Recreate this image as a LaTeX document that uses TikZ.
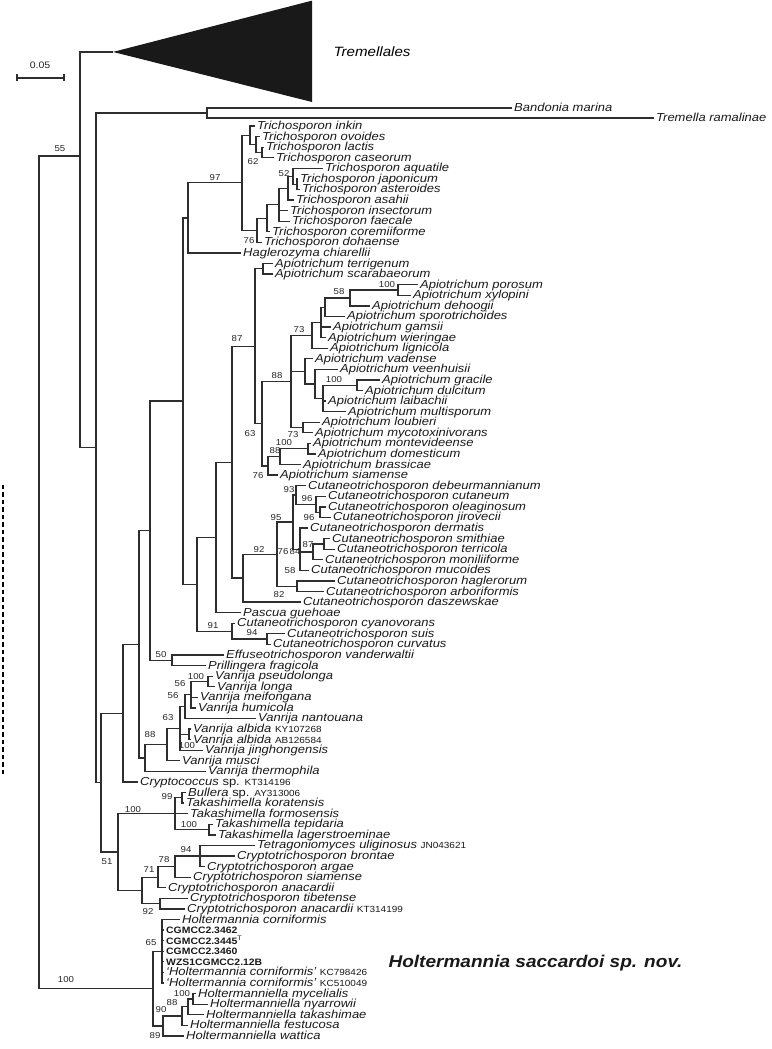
\documentclass[tikz,border=0pt]{standalone}
\usepackage{fontspec}
\setmainfont{Liberation Sans}[FakeStretch=1.12]

% fonts of the tree labels
\newcommand\spfont{\fontsize{11.6}{12}\selectfont\itshape}
\newcommand\accno[1]{{\upshape\fontsize{8.9}{9}\selectfont #1}}
\newcommand\spabbr{{\upshape sp.}}
\newcommand\cgfont{\upshape\bfseries\fontsize{9.3}{10}\selectfont}

\begin{document}
\begin{tikzpicture}[x=1pt, y=-10.58pt,
  branch/.style={draw=black!82, line width=1.3pt},
  sp/.style={anchor=west, inner xsep=2pt, inner ysep=0pt, text height=8.5pt, text depth=1.5pt, font=\spfont, text=black!90},
  bs/.style={inner sep=0pt, font=\fontsize{8.6}{9}\selectfont, text=black!85}]

  \useasboundingbox (0,-7.909) rectangle (771,91.24);

  % collapsed clade and the two long branches
  \coordinate (trem) at (113,-3.0);
  \fill[black!90] (trem) -- (312,-7.85) -- (312,1.73) -- cycle;
  \node[anchor=west, font=\fontsize{13.5}{14}\selectfont\itshape] (tremlab) at (330,-3.0) {Tremellales};
  \node[sp] (bandonia) at (512,2.30) {Bandonia marina};
  \node[sp] (tremella) at (654,3.245) {Tremella ramalinae};

  % leaves, one row each
  \foreach \x/\s [count=\i from 4] in {
    255/Trichosporon inkin, 260/Trichosporon ovoides, 264/Trichosporon lactis,
    274/Trichosporon caseorum, 323/Trichosporon aquatile, 298/Trichosporon japonicum,
    300/Trichosporon asteroides, 294/Trichosporon asahii, 288/Trichosporon insectorum,
    290/Trichosporon faecale, 270/Trichosporon coremiiforme, 262/Trichosporon dohaense,
    241/Haglerozyma chiarellii, 273/Apiotrichum terrigenum, 273/Apiotrichum scarabaeorum,
    418/Apiotrichum porosum, 411/Apiotrichum xylopini, 370/Apiotrichum dehoogii,
    345/Apiotrichum sporotrichoides, 331/Apiotrichum gamsii, 326/Apiotrichum wieringae,
    328/Apiotrichum lignicola, 313/Apiotrichum vadense, 338/Apiotrichum veenhuisii,
    380/Apiotrichum gracile, 363/Apiotrichum dulcitum, 326/Apiotrichum laibachii,
    346/Apiotrichum multisporum, 320/Apiotrichum loubieri, 313/Apiotrichum mycotoxinivorans,
    311/Apiotrichum montevideense, 316/Apiotrichum domesticum, 301/Apiotrichum brassicae,
    278/Apiotrichum siamense, 306/Cutaneotrichosporon debeurmannianum,
    326/Cutaneotrichosporon cutaneum, 326/Cutaneotrichosporon oleaginosum,
    331/Cutaneotrichosporon jirovecii, 308/Cutaneotrichosporon dermatis,
    330/Cutaneotrichosporon smithiae, 335/Cutaneotrichosporon terricola,
    323/Cutaneotrichosporon moniliiforme, 309/Cutaneotrichosporon mucoides,
    335/Cutaneotrichosporon haglerorum, 324/Cutaneotrichosporon arboriformis,
    301/Cutaneotrichosporon daszewskae, 241/Pascua guehoae,
    235/Cutaneotrichosporon cyanovorans, 285/Cutaneotrichosporon suis,
    271/Cutaneotrichosporon curvatus, 224/Effuseotrichosporon vanderwaltii,
    206/Prillingera fragicola, 213/Vanrija pseudolonga, 215/Vanrija longa,
    198/Vanrija meifongana, 196/Vanrija humicola, 256/Vanrija nantouana,
    191/Vanrija albida \accno{KY107268}, 191/Vanrija albida \accno{AB126584},
    203/Vanrija jinghongensis, 180/Vanrija musci, 206/Vanrija thermophila,
    138/Cryptococcus \spabbr{} \accno{KT314196}, 186/Bullera \spabbr{} \accno{AY313006},
    184/Takashimella koratensis, 188/Takashimella formosensis, 213/Takashimella tepidaria,
    216/Takashimella lagerstroeminae, 255/Tetragoniomyces uliginosus \accno{JN043621},
    235/Cryptotrichosporon brontae, 205/Cryptotrichosporon argae,
    191/Cryptotrichosporon siamense, 166/Cryptotrichosporon anacardii,
    188/Cryptotrichosporon tibetense, 185/Cryptotrichosporon anacardii \accno{KT314199},
    180/Holtermannia corniformis, 164/{\cgfont CGMCC2.3462},
    164/{\cgfont CGMCC2.3445\textsuperscript{\mdseries T}}, 164/{\cgfont CGMCC2.3460},
    164/{\cgfont WZS1CGMCC2.12B}, 164/‘Holtermannia corniformis’ \accno{KC798426},
    164/‘Holtermannia corniformis’ \accno{KC510049}, 196/Holtermanniella mycelialis,
    208/Holtermanniella nyarrowii, 204/Holtermanniella takashimae,
    188/Holtermanniella festucosa, 184/Holtermanniella wattica}
    \node[sp] (sp\i) at (\x,\i) {\s};

  % inner nodes
  \foreach \n/\x/\t in {
    n262t/262/6.5, n256/256/5.75, n250/250/4.875, n297t/297/9.5, n293t/293/8.75,
    n288/288/9.875, n279/279/11.4375, n267/267/12.719, n257/257/13.859,
    n242/242/9.367, n188/188/12.684, n263/263/17.5, n398/398/19.5, n350/350/20.25,
    n325/325/21.125, n321/321/22.5625, n312/312/23.781, n357/357/28.5, n323/323/29.75,
    n315/315/28.375, n305/305/27.1875, n303/303/32.5, n291/291/28.14, n308/308/34.5,
    n280/280/35.25, n268/268/36.125, n262/262/32.133, n255/255/24.82, n320/320/40.5,
    n316/316/39.75, n296/296/38.875, n324/324/43.5, n313/313/44.25, n300/300/44,
    n293/293/41.44, n297/297/47.5, n277/277/44.47, n243/243/46.73, n232/232/35.78,
    n216/216/42.89, n267c/267/52.5, n232c/232/51.75, n197/197/47.32, n183/183/30.0,
    n172/172/54.5, n150/150/42.25, n208/208/56.5, n191/191/57.75, n185/185/58.875,
    n189/189/61.5, n180/180/60.94, n167/167/62.47, n145/145/63.73, n139/139/52.99,
    n123/123/59.5, n182/182/67.5, n209/209/70.5, n175/175/69, n200/200/73,
    n175c/175/74, n158/158/75, n160/160/77.5, n142/142/76.25, n118/118/72.625,
    n101/101/66.06, n207/207/2.77, n96/96/34.42, n80/80/6.835, n162/162/82,
    n193/193/86.5, n188h/188/87.25, n182h/182/88.125, n163/163/89.06,
    n153/153/85.53, root/39/46.18}
    \coordinate (\n) at (\x,\t);

  % branches
  \foreach \p/\c in {
    n250/sp4, n250/n256, n256/sp5, n256/n262t, n262t/sp6, n262t/sp7,
    n297t/sp9, n297t/sp10, n293t/sp8, n293t/n297t, n288/n293t, n288/sp11,
    n279/n288, n279/sp12, n279/sp13, n267/n279, n267/sp14, n257/n267, n257/sp15,
    n242/n250, n242/n257, n188/n242, n188/sp16,
    n263/sp17, n263/sp18, n398/sp19, n398/sp20, n350/n398, n350/sp21,
    n325/n350, n325/sp22, n321/n325, n321/sp23, n321/sp24, n312/n321, n312/sp25,
    n357/sp28, n357/sp29, n323/n357, n323/sp30, n323/sp31, n315/sp27, n315/n323,
    n305/sp26, n305/n315, n303/sp32, n303/sp33, n291/n312, n291/n305, n291/n303,
    n308/sp34, n308/sp35, n280/n308, n280/sp36, n268/n280, n268/sp37,
    n262/n291, n262/n268, n255/n263, n255/n262,
    n320/sp40, n320/sp41, n316/sp39, n316/n320, n296/sp38, n296/n316,
    n324/sp43, n324/sp44, n313/n324, n313/sp45, n300/sp42, n300/n313, n300/sp46,
    n293/n296, n293/n300, n297/sp47, n297/sp48, n277/n293, n277/n297,
    n243/n277, n243/sp49, n232/n255, n232/n243, n216/n232, n216/sp50,
    n267c/sp52, n267c/sp53, n232c/sp51, n232c/n267c, n197/n216, n197/n232c,
    n183/n188, n183/n197, n172/sp54, n172/sp55, n150/n183, n150/n172,
    n208/sp56, n208/sp57, n191/n208, n191/sp58, n191/sp59, n185/n191, n185/sp60,
    n189/sp61, n189/sp62, n180/n185, n180/n189, n180/sp63, n167/n180, n167/sp64,
    n145/n167, n145/sp65, n139/n150, n139/n145, n123/n139, n123/sp66,
    n182/sp67, n182/sp68, n209/sp70, n209/sp71, n175/n182, n175/sp69, n175/n209,
    n200/sp72, n200/sp73, n200/sp74, n175c/n200, n175c/sp75, n158/n175c, n158/sp76,
    n160/sp77, n160/sp78, n142/n158, n142/n160, n118/n175, n118/n142,
    n101/n123, n101/n118, n207/bandonia, n207/tremella, n96/n207, n96/n101,
    n80/trem, n80/n96,
    n162/sp79, n162/sp80, n162/sp81, n162/sp82, n162/sp83, n162/sp84, n162/sp85,
    n193/sp86, n193/sp87, n188h/n193, n188h/sp88, n182h/n188h, n182h/sp89,
    n163/n182h, n163/sp90, n153/n162, n153/n163,
    root/n80, root/n153}
    \draw[branch] (\p) |- (\c);

  % bootstrap values
  \foreach \x/\t/\b [count=\k] in {
    60/6.1/55, 215/8.85/97, 253/7.40/62, 284/8.54/52, 249/14.78/76,
    237/24.1/87, 339/19.6/58, 387/19.03/100, 299/23.2/73, 277/27.55/88,
    334/27.95/100, 293/33.2/73, 250/33.11/63, 284/33.95/100, 275/34.7/88,
    258/37.08/76, 289/38.40/93, 307/39.2/96, 309/40.96/96, 276/41.0/95,
    259/44.0/92, 283/44.25/76, 295/44.25/84, 308/43.6/87, 290/45.97/58,
    279/48.33/82, 213/51.2/91, 252/51.9/94, 161/53.95/50, 196/56.08/100,
    180/56.65/56, 173/57.87/56, 187/62.6/100, 168/59.95/63, 150/61.47/88,
    167/67.33/99, 133/68.56/100, 189/70.0/100, 107/73.56/51, 186/72.43/94,
    164/73.3/78, 149/74.3/71, 148/78.29/92, 151/81.22/65, 66/84.72/100,
    182/85.95/100, 172/86.85/88, 161/87.55/90, 155/89.92/89}
    \node[bs] (bs\k) at (\x,\t) {\b};

  % scale bar
  \coordinate (sbl) at (17,-0.54);
  \coordinate (sbr) at (64,-0.54);
  \draw[branch, line width=1.1pt] (sbl) -- (sbr);
  \draw[branch, line width=1.1pt] (sbl) +(0,-3.5pt) -- +(0,3.5pt);
  \draw[branch, line width=1.1pt] (sbr) +(0,-3.5pt) -- +(0,3.5pt);
  \node[font=\fontsize{9.4}{10}\selectfont, text=black!85] (sblab) at (40,-1.77) {0.05};

  % dashed bar at the left edge
  \coordinate (dtop) at (3,37.93);
  \coordinate (dbot) at (3,65.34);
  \draw[black, line width=2.2pt, dash pattern=on 4.5pt off 3pt] (dtop) -- (dbot);

  % new species
  \node[anchor=west, font=\fontsize{17}{18}\selectfont\bfseries\itshape, text=black!90] (newsp) at (385,83.11) {Holtermannia saccardoi sp. nov.};
\end{tikzpicture}
\end{document}
